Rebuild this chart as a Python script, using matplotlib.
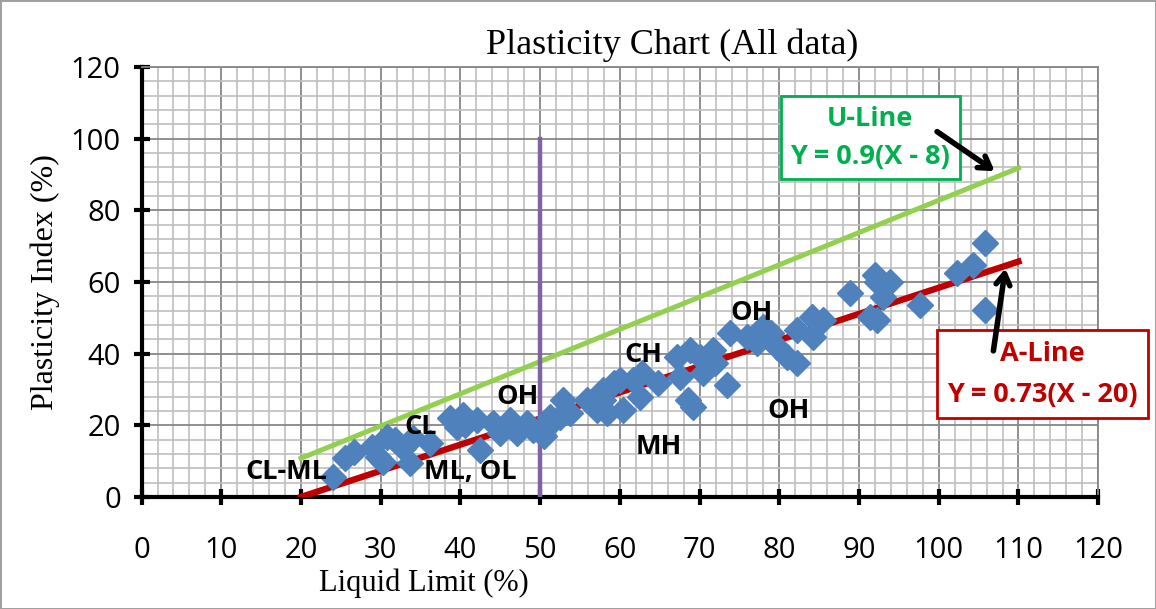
import numpy as np
import matplotlib.pyplot as plt
from matplotlib.ticker import MultipleLocator

# Liquid limit / plasticity index samples
ll = [24.0, 25.5, 26.6, 28.9, 29.7, 30.3, 30.8, 31.8, 32.8, 33.7, 34.1, 36.2,
      38.7, 39.6, 40.3, 40.6, 42.1, 42.5, 44.1, 45.0, 46.2, 47.1, 48.3, 49.1,
      50.5, 50.8, 51.2, 52.5, 52.9, 53.8, 55.9, 57.1, 57.9, 57.9, 58.4, 59.2,
      60.0, 60.4, 61.7, 62.5, 62.8, 64.8, 67.2, 67.6, 68.6, 68.8, 69.2, 70.1,
      70.4, 71.7, 71.9, 73.4, 73.8, 75.9, 77.2, 78.0, 78.9, 79.7, 81.0, 82.2,
      82.2, 84.1, 84.2, 85.5, 88.9, 91.4, 92.0, 92.3, 92.3, 93.0, 93.9, 97.7,
      102.3, 104.3, 105.8, 105.8]
pi = [5.6, 10.9, 12.6, 14.0, 11.2, 9.8, 16.7, 15.9, 13.7, 9.5, 16.5, 15.0,
      22.0, 19.5, 22.9, 20.0, 21.5, 13.0, 20.6, 17.8, 21.5, 17.8, 20.6, 18.7,
      17.0, 19.5, 22.3, 22.3, 27.0, 23.4, 27.0, 24.3, 27.0, 29.9, 23.4, 31.8,
      32.7, 24.3, 32.7, 27.9, 34.6, 31.8, 39.1, 33.5, 27.0, 41.0, 25.1, 39.1,
      34.6, 41.0, 37.4, 31.3, 45.8, 44.7, 43.0, 47.5, 45.8, 41.9, 39.1, 37.4,
      46.6, 50.2, 44.7, 49.4, 57.0, 50.2, 62.0, 60.0, 49.4, 55.8, 60.0, 53.6,
      62.5, 64.7, 70.9, 52.2]

line_x = [20, 110]
zone_labels = ['CL-ML', 'CL', 'ML, OL', 'OH', 'CH', 'MH', 'OH', 'OH']
zone_x = [18.2, 35.0, 41.2, 47.1, 62.9, 64.9, 76.5, 81.2]
zone_y = [7.0, 19.5, 7.0, 28.0, 39.6, 14.0, 51.4, 24.0]


def a_line(x):
    return 0.73 * (np.asarray(x) - 20)


def u_line(x):
    return 0.9 * (np.asarray(x) - 8)


fig = plt.figure(figsize=(11.56, 6.09), dpi=100)
fig.patch.set_edgecolor('#A0A0A0')
fig.patch.set_linewidth(2)
ax = fig.add_axes([0.1225, 0.184, 0.8275, 0.706])

ax.set_xlim(0, 120)
ax.set_ylim(0, 120)
ax.xaxis.set_major_locator(MultipleLocator(10))
ax.xaxis.set_minor_locator(MultipleLocator(2))
ax.yaxis.set_major_locator(MultipleLocator(20))
ax.yaxis.set_minor_locator(MultipleLocator(4))
ax.grid(which='minor', color='#BFBFBF', lw=1.2, zorder=0)
ax.grid(which='major', color='#868686', lw=1.3, zorder=0)
ax.set_axisbelow(True)

for side in ['top', 'right']:
    ax.spines[side].set_color('#868686')
    ax.spines[side].set_linewidth(1.3)
for side in ['left', 'bottom']:
    ax.spines[side].set_color('black')
    ax.spines[side].set_linewidth(3)

ax.tick_params(which='major', direction='inout', length=12, width=3,
               labelsize=21, labelfontfamily='Open Sans')
ax.tick_params(which='minor', length=0)
ax.tick_params(axis='x', pad=22)
ax.tick_params(axis='y', pad=9)

ax.plot(line_x, u_line(line_x), color='#92D050', lw=3.6, zorder=3)
ax.plot(line_x, a_line(line_x), color='#C00000', lw=4.6, zorder=3)
ax.plot([50, 50], [0, 100], color='#8064A2', lw=3.2, zorder=3)
ax.plot(ll, pi, 'D', color='#4F81BD', ms=13, mec='#4F81BD', zorder=4,
        clip_on=False)

for t, x, y in zip(zone_labels, zone_x, zone_y):
    ax.text(x, y, t, fontsize=19.5, fontweight='bold', ha='center', va='center',
            family='Open Sans', zorder=5)

ax.text(91.4, 100.2, 'U-Line\nY = 0.9(X - 8)', color='#00B050', fontsize=19.5,
        fontweight='bold', ha='center', va='center', family='Open Sans',
        linespacing=1.6, zorder=6,
        bbox=dict(boxstyle='square,pad=0.35', fc='white', ec='#00B050', lw=2))
ax.annotate('', xy=(107.3, 90.5), xytext=(99.5, 102.4),
            arrowprops=dict(arrowstyle='->,head_width=0.5,head_length=0.8',
                            color='black', lw=4), zorder=6)

ax.text(113.0, 34.3, 'A-Line\nY = 0.73(X - 20)', color='#C00000', fontsize=19.5,
        fontweight='bold', ha='center', va='center', family='Open Sans',
        linespacing=1.75, zorder=6, clip_on=False,
        bbox=dict(boxstyle='square,pad=0.38', fc='white', ec='#C00000', lw=2))
ax.annotate('', xy=(108.4, 64.5), xytext=(106.8, 40.0),
            arrowprops=dict(arrowstyle='->,head_width=0.5,head_length=0.8',
                            color='black', lw=4), zorder=6)

ax.set_title('Plasticity Chart (All data)', family='Liberation Serif',
             fontsize=26, x=0.555, pad=9)
ax.set_xlabel('Liquid Limit (%)', family='Liberation Serif', fontsize=22,
              x=0.295, labelpad=3)
ax.set_ylabel('Plasticity Index (%)', family='Liberation Serif', fontsize=23,
              labelpad=8)

fig.savefig('out.png', dpi=100)
